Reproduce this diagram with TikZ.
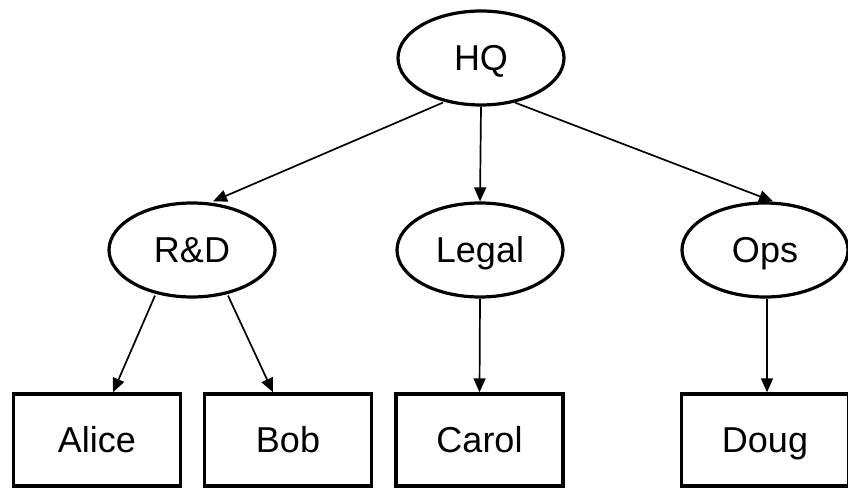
\documentclass[tikz,border=0pt]{standalone}
\usepackage{fontspec}
\setmainfont{Liberation Sans}
\usetikzlibrary{arrows.meta,shapes.geometric}

\tikzset{
  unit/.style={ellipse, draw, line width=3.2pt, minimum width=166pt, minimum height=94pt,
    inner sep=0pt, font=\fontsize{36}{40}\selectfont, text height=25.8pt, text depth=0pt},
  person/.style={rectangle, draw, line width=3.4pt, minimum width=167pt, minimum height=92pt,
    inner sep=0pt, font=\fontsize{36}{40}\selectfont, text height=25.8pt, text depth=0pt},
  link/.style={line width=1.7pt, -{Triangle[length=14pt,width=12pt]}}
}

\begin{document}
\begin{tikzpicture}[x=1pt,y=1pt]
  \useasboundingbox (0,0) rectangle (848,490);

  % organisational units
  \node[unit] (hq)    at (481,432) {HQ};
  \node[unit] (rd)    at (192,240) {R\&D};
  \node[unit] (legal) at (480,240) {Legal};
  \node[unit] (ops)   at (765,240) {Ops};

  % staff
  \node[person] (alice) at (97,50)    {Alice};
  \node[person] (bob)   at (288,50)   {Bob};
  \node[person] (carol) at (479.5,50) {Carol};
  \node[person] (doug)  at (765,50)   {Doug};

  % reporting lines
  \draw[link] ([xshift=-38pt,yshift=4pt]hq.south) -- ([xshift=21pt]rd.north);
  \draw[link] (hq.south) -- (legal.north);
  \draw[link] ([xshift=34pt,yshift=4pt]hq.south) -- ([xshift=8pt]ops.north);
  \draw[link] ([xshift=-37pt,yshift=3pt]rd.south) -- ([xshift=16pt]alice.north);
  \draw[link] ([xshift=36pt,yshift=3pt]rd.south) -- ([xshift=-15pt]bob.north);
  \draw[link] (legal.south) -- (carol.north);
  \draw[link] ([xshift=2pt]ops.south) -- ([xshift=2pt]doug.north);
\end{tikzpicture}
\end{document}
